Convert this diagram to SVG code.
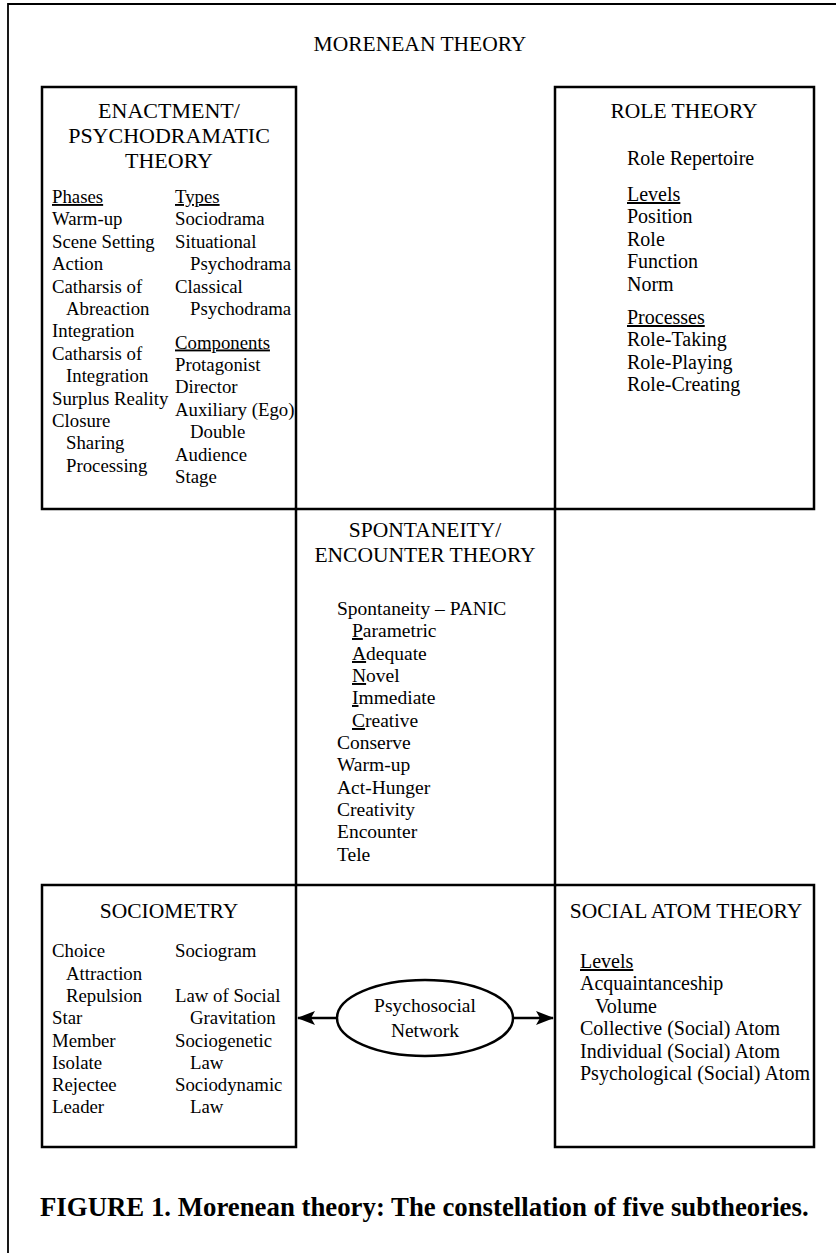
<svg xmlns="http://www.w3.org/2000/svg" width="836" height="1253" viewBox="0 0 836 1253">
<style>
text{font-family:"Liberation Serif","Times New Roman",serif;fill:#000}
.t{font-size:21.5px;text-anchor:middle}
.b{font-size:20px}
.s{font-size:18.8px}
.m{font-size:19.5px}
.u{text-decoration:underline}
.box{fill:none;stroke:#000;stroke-width:2.5}
.frame{fill:none;stroke:#000;stroke-width:1.8}
.cap{font-size:26.8px;font-weight:bold}
.el{font-size:19.5px;text-anchor:middle}
</style>
<defs>
<marker id="ah" markerUnits="userSpaceOnUse" markerWidth="18" markerHeight="14" refX="17" refY="7" orient="auto">
<path d="M0,0 L18,7 L0,14 L4,7 Z" fill="#000"/>
</marker>
</defs>
<g id="frame">
<path class="frame" d="M8,1253 V4 H836"/>
<text class="t" x="420" y="51">MORENEAN THEORY</text>
</g>
<g id="enactment">
<rect class="box" x="42" y="87" width="254" height="422"/>
<text class="t" x="169" y="118" style="font-size:22px">ENACTMENT/</text>
<text class="t" x="169" y="143" style="font-size:22px">PSYCHODRAMATIC</text>
<text class="t" x="169" y="168" style="font-size:22px">THEORY</text>
<g class="s">
<text x="52" y="203" class="u">Phases</text>
<text x="52" y="225.4">Warm-up</text>
<text x="52" y="247.8">Scene Setting</text>
<text x="52" y="270.2">Action</text>
<text x="52" y="292.6">Catharsis of</text>
<text x="66" y="315">Abreaction</text>
<text x="52" y="337.4">Integration</text>
<text x="52" y="359.8">Catharsis of</text>
<text x="66" y="382.2">Integration</text>
<text x="52" y="404.6">Surplus Reality</text>
<text x="52" y="427">Closure</text>
<text x="66" y="449.4">Sharing</text>
<text x="66" y="471.8">Processing</text>
<text x="175" y="203" class="u">Types</text>
<text x="175" y="225.4">Sociodrama</text>
<text x="175" y="247.8">Situational</text>
<text x="190" y="270.2">Psychodrama</text>
<text x="175" y="292.6">Classical</text>
<text x="190" y="315">Psychodrama</text>
<text x="175" y="348.5" class="u">Components</text>
<text x="175" y="370.9">Protagonist</text>
<text x="175" y="393.3">Director</text>
<text x="175" y="415.7">Auxiliary (Ego)</text>
<text x="190" y="438.1">Double</text>
<text x="175" y="460.5">Audience</text>
<text x="175" y="482.9">Stage</text>
</g>
</g>
<g id="role">
<rect class="box" x="555" y="87" width="259" height="422"/>
<text class="t" x="684" y="118">ROLE THEORY</text>
<g class="b">
<text x="627" y="165">Role Repertoire</text>
<text x="627" y="201" class="u">Levels</text>
<text x="627" y="223">Position</text>
<text x="627" y="246">Role</text>
<text x="627" y="268">Function</text>
<text x="627" y="291">Norm</text>
<text x="627" y="324" class="u">Processes</text>
<text x="627" y="346">Role-Taking</text>
<text x="627" y="369">Role-Playing</text>
<text x="627" y="391">Role-Creating</text>
</g>
</g>
<g id="spontaneity">
<rect class="box" x="296" y="509" width="259" height="376"/>
<text class="t" x="425" y="537">SPONTANEITY/</text>
<text class="t" x="425" y="562">ENCOUNTER THEORY</text>
<g class="m">
<text x="337" y="615">Spontaneity – PANIC</text>
<text x="352" y="637"><tspan class="u">P</tspan>arametric</text>
<text x="352" y="660"><tspan class="u">A</tspan>dequate</text>
<text x="352" y="682"><tspan class="u">N</tspan>ovel</text>
<text x="352" y="704"><tspan class="u">I</tspan>mmediate</text>
<text x="352" y="727"><tspan class="u">C</tspan>reative</text>
<text x="337" y="749">Conserve</text>
<text x="337" y="771">Warm-up</text>
<text x="337" y="794">Act-Hunger</text>
<text x="337" y="816">Creativity</text>
<text x="337" y="838">Encounter</text>
<text x="337" y="861">Tele</text>
</g>
</g>
<g id="sociometry">
<rect class="box" x="42" y="885" width="254" height="262"/>
<text class="t" x="169" y="918">SOCIOMETRY</text>
<g class="s">
<text x="52" y="957">Choice</text>
<text x="66" y="980">Attraction</text>
<text x="66" y="1002">Repulsion</text>
<text x="52" y="1024">Star</text>
<text x="52" y="1047">Member</text>
<text x="52" y="1069">Isolate</text>
<text x="52" y="1091">Rejectee</text>
<text x="52" y="1113">Leader</text>
<text x="175" y="957">Sociogram</text>
<text x="175" y="1002">Law of Social</text>
<text x="190" y="1024">Gravitation</text>
<text x="175" y="1047">Sociogenetic</text>
<text x="190" y="1069">Law</text>
<text x="175" y="1091">Sociodynamic</text>
<text x="190" y="1113">Law</text>
</g>
</g>
<g id="socialatom">
<rect class="box" x="555" y="885" width="259" height="262"/>
<text class="t" x="686" y="918">SOCIAL ATOM THEORY</text>
<g class="b">
<text x="580" y="968" class="u">Levels</text>
<text x="580" y="990">Acquaintanceship</text>
<text x="595" y="1013">Volume</text>
<text x="580" y="1035">Collective (Social) Atom</text>
<text x="580" y="1058">Individual (Social) Atom</text>
<text x="580" y="1080">Psychological (Social) Atom</text>
</g>
</g>
<g id="network">
<ellipse cx="425" cy="1018" rx="88" ry="38" fill="#fff" stroke="#000" stroke-width="2.5"/>
<text class="el" x="425" y="1012">Psychosocial</text>
<text class="el" x="425" y="1037">Network</text>
</g>
<g id="connectors" stroke="#000" stroke-width="2.5">
<line x1="337" y1="1018" x2="298" y2="1018" marker-end="url(#ah)"/>
<line x1="513" y1="1018" x2="553" y2="1018" marker-end="url(#ah)"/>
</g>
<g id="caption">
<text class="cap" x="40" y="1216">FIGURE 1. Morenean theory: The constellation of five subtheories.</text>
</g>
</svg>
